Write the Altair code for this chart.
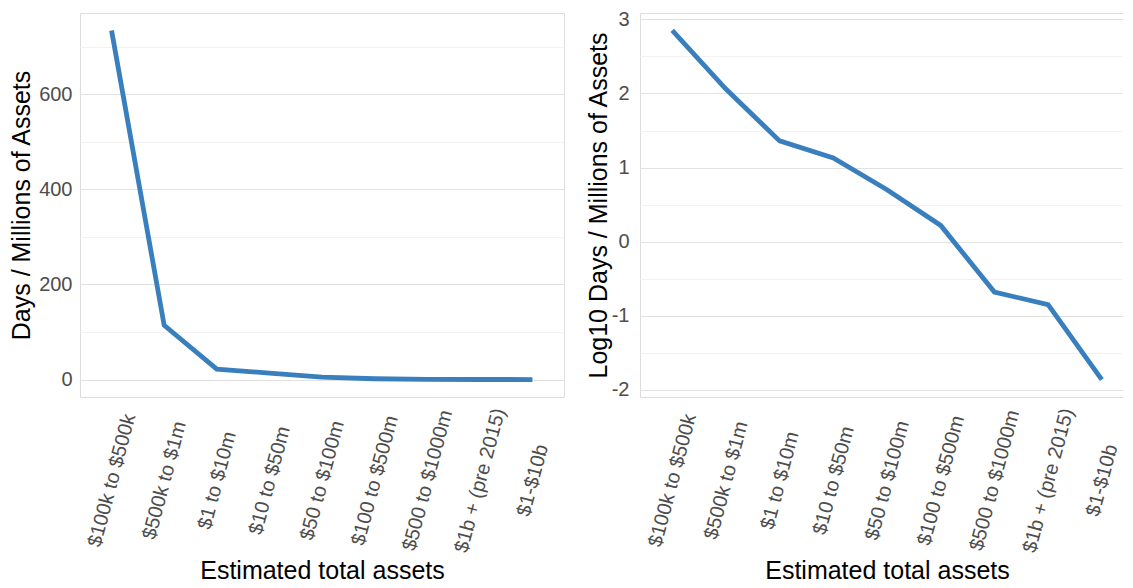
import altair as alt
import pandas as pd

categories = ["$100k to $500k", "$500k to $1m", "$1 to $10m", "$10 to $50m",
              "$50 to $100m", "$100 to $500m", "$500 to $1000m",
              "$1b + (pre 2015)", "$1-$10b"]
days_per_million = [734, 114, 22, 13.5, 5.0, 1.7, 0.2, 0.14, 0.014]
log10_days = [2.85, 2.06, 1.36, 1.13, 0.70, 0.22, -0.68, -0.85, -1.86]

left_ticks = [0, 100, 200, 300, 400, 500, 600, 700]
right_ticks = [-2, -1.5, -1, -0.5, 0, 0.5, 1, 1.5, 2, 2.5, 3]

df = pd.DataFrame({"asset": categories, "days": days_per_million, "logdays": log10_days})

FONT = "Liberation Sans"
LINE = "#3A7FBD"
MAJOR = "#E2E2E2"
MINOR = "#F2F2F2"
LABEL = "#4D4D4D"


def xaxis():
    return alt.Axis(
        title="Estimated total assets", labelAngle=-75, labelAlign="center",
        labelBaseline="middle", labelPadding=83, ticks=False, tickSize=0,
        labelOverlap=False, labelFontSize=20, labelColor=LABEL,
        labelFont=FONT, titleFont=FONT, titleFontSize=25, titleColor="#000000",
        titleFontWeight="normal", titlePadding=4, domain=False,
        gridColor=MAJOR, gridWidth=1,
    )


xenc = alt.X("asset:N", sort=categories,
             scale=alt.Scale(type="point", padding=0.6), axis=xaxis())

left = alt.Chart(df).mark_line(color=LINE, strokeWidth=4.8, strokeCap="butt").encode(
    x=xenc,
    y=alt.Y("days:Q", scale=alt.Scale(domain=[-36.7, 770.7], nice=False, zero=False),
            axis=alt.Axis(title="Days / Millions of Assets", values=left_ticks,
                          labelExpr="datum.value % 200 === 0 ? '' + datum.value : ''",
                          ticks=False, tickSize=0, domain=False,
                          labelPadding=8, labelFontSize=20, labelColor=LABEL,
                          labelFont=FONT, titleFont=FONT, titleFontSize=25,
                          titleColor="#000000", titleFontWeight="normal",
                          titlePadding=4, labelOverlap=False,
                          gridColor={"condition": {"test": "datum.value % 200 === 0", "value": MAJOR}, "value": MINOR},
                          gridWidth=1)),
).properties(width=484, height=384)

right = alt.Chart(df).mark_line(color=LINE, strokeWidth=4.8, strokeCap="butt").encode(
    x=xenc,
    y=alt.Y("logdays:Q", scale=alt.Scale(domain=[-2.0955, 3.0855], nice=False, zero=False),
            axis=alt.Axis(title="Log10 Days / Millions of Assets", values=right_ticks,
                          labelExpr="datum.value % 1 === 0 ? '' + datum.value : ''",
                          ticks=False, tickSize=0, domain=False,
                          labelPadding=11, labelFontSize=20, labelColor=LABEL,
                          labelFont=FONT, titleFont=FONT, titleFontSize=25,
                          titleColor="#000000", titleFontWeight="normal",
                          titlePadding=0, labelOverlap=False,
                          gridColor={"condition": {"test": "datum.value % 1 === 0", "value": MAJOR}, "value": MINOR},
                          gridWidth=1)),
).properties(width=494, height=384)

chart = alt.hconcat(left, right, spacing=20).properties(
    padding={"left": 1, "top": 0, "right": -12, "bottom": 0}
).configure_view(stroke="#B3B3B3", strokeWidth=1).configure(background="white")

chart.save("out.html", embed_options={"renderer": "svg", "actions": False})
